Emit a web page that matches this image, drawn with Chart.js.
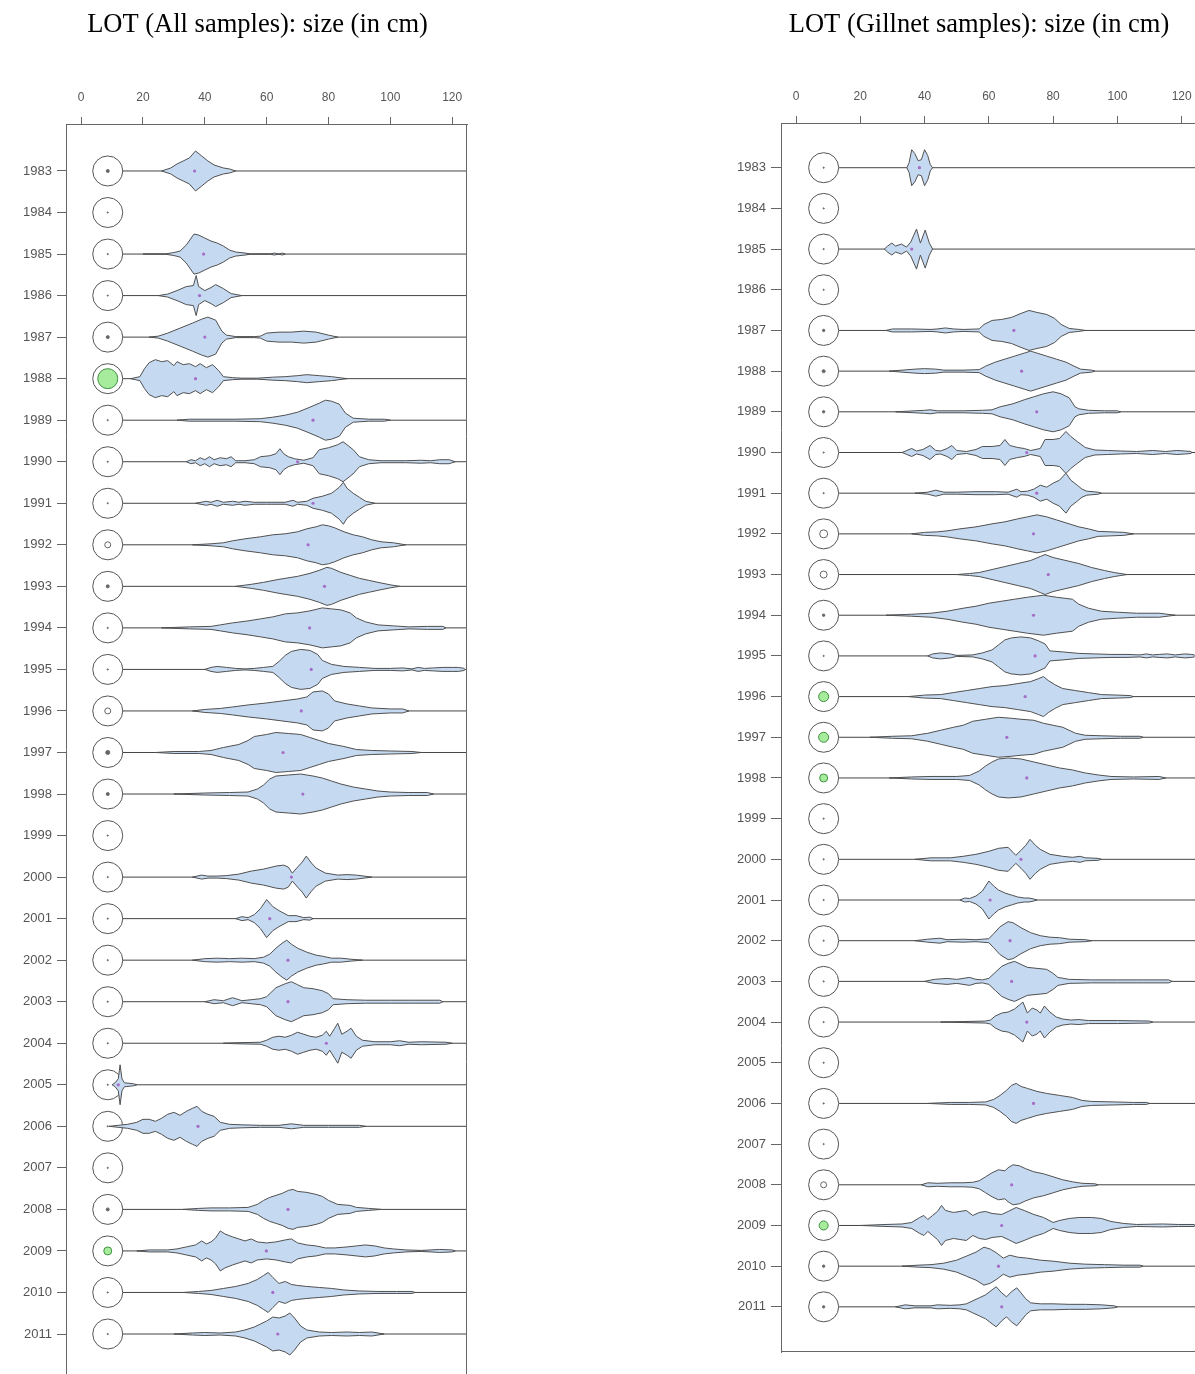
<!DOCTYPE html>
<html>
<head>
<meta charset="utf-8">
<script src="https://cdn.jsdelivr.net/npm/chart.js@4.4.1/dist/chart.umd.min.js"></script>
<style>
  html, body { margin: 0; padding: 0; background: #fff; overflow: hidden; }
  #boxAll { position: absolute; left: 0; top: 0; }
  #boxGill { position: absolute; left: 597px; top: 0; }
</style>
</head>
<body>
<div id="boxAll"><canvas id="chartAll" width="597" height="1374"></canvas></div>
<div id="boxGill"><canvas id="chartGill" width="598" height="1374"></canvas></div>
<script>
const years = [1983, 1984, 1985, 1986, 1987, 1988, 1989, 1990, 1991, 1992, 1993, 1994, 1995, 1996, 1997,
  1998, 1999, 2000, 2001, 2002, 2003, 2004, 2005, 2006, 2007, 2008, 2009, 2010, 2011];
const sizeTicks = [0, 20, 40, 60, 80, 100, 120];

// bean outlines: [size in cm, density half-width], one list per year
const allBeans = [
  [[26,0],[29,3],[31,7],[33,10],[35,13],[37,20],[39,15],[41,10],[43,6],[46,3],[48,2],[50,0]],
  [],
  [[20,0],[27,0],[30,1.5],[32,3],[34,9],[36.5,20],[38,19],[40,16],[42,13],[44,11],[46,8],[48,4],[50,2],[53,1],[55,0],[61,0],[62.5,1],[64,0],[65,1],[66,0]],
  [[25,0],[28,1.5],[31,5],[34,9],[36.3,10],[37.2,20],[38,9],[40,5],[42,8],[43.5,11],[46,7],[48.5,2],[52,0]],
  [[22,0],[25,1],[28,4],[32,9],[36,14],[39,18],[41,20],[43.5,17],[45.5,6],[47,2],[50,0.5],[56,0.5],[58,1],[60,4],[64,5],[68,5],[72,6],[76,5],[80,2],[83,0]],
  [[16,0],[19,2],[20.5,10],[22,16],[24,19],[26,17],[28,18],[30,13],[31,17],[33,14],[35,15],[37,12],[38.5,15],[40.5,11],[42.5,14],[44.5,8],[46,2],[49,1],[52,0.5],[57,0.5],[62,1.5],[66,2],[70,3],[73,4],[77,3],[81,2],[86,0]],
  [[31,0],[35,1],[50,1],[58,1.5],[62,3],[66,5],[70,8],[74,13],[77,17],[79,20],[81,19],[83.5,16],[85.5,7],[88,2],[93,1],[98,1],[100,0]],
  [[34,0],[35.5,2],[37,1],[38.5,4],[40,2],[41.5,5],[43,2],[45,4],[47,3],[48.5,5],[50,1],[53,1],[56,2],[58,5],[61,6],[63,8],[64.3,13],[65.5,8],[67,5],[69,3],[72,1.5],[75,4],[77,12],[80,14],[83,17],[84.7,20],[86,17],[88,12],[90,5],[93,2],[97,1],[105,1],[110,1.5],[113,1],[116,2],[119,2],[121,0]],
  [[37,0],[40.5,2],[42,1],[44,3],[46,1],[49,2],[51,1],[53,2],[56,1],[60,1],[66,1],[68.5,3],[70,1],[73,2],[75,5],[78,7],[81,10],[83.5,16],[84.8,21],[86,15],[88,10],[90,6],[92,2],[95,0]],
  [[36,0],[42,1],[46,2],[49,4],[53,6],[58,8],[62,10],[66,11],[70,13],[73,16],[76,18],[78,20],[80,19],[82,17],[85,13],[88,10],[91,8],[94,5],[97,3],[101,2],[105,0]],
  [[50,0],[55,2],[59,4],[64,7],[70,10],[74,13],[77,16],[79.5,19],[81,18],[84,14],[87,11],[90,8],[93,6],[96,4],[100,1.5],[103,0]],
  [[26,0],[35,1],[42,1.5],[45,3],[49,5],[54,7],[58,9],[62,11],[66,14],[70,15],[74,17],[78,20],[81,19],[84,18],[87,15],[89,10],[92,6],[96,3],[101,2],[106,1],[112,1.5],[117,1.5],[118,0]],
  [[40,0],[42,2],[44,3],[47,2],[50,1],[53,0.5],[56,1],[59,2],[62,3],[64,8],[66,14],[68,18],[71,20],[74,19],[76.5,15],[78,9],[81,5],[85,3],[90,2],[95,1],[100,1],[104,1.5],[107,0.5],[109,2],[111,1],[114,1.5],[117,2],[120,2],[122,2],[124,1]],
  [[36,0],[40,1.5],[45,2.5],[49,4],[54,6],[60,8],[65,10],[70,12],[73,14],[75,19],[78,20],[80,17],[82,10],[86,7],[90,5],[94,3],[100,2],[104,2],[106,0]],
  [[24,0],[30,1],[38,1],[42,2],[46,5],[51,8],[54,12],[56,16],[60,18],[63,20],[67,19],[71,18],[74,15],[77,12],[80,9],[85,6],[89,3],[94,2],[100,1.5],[107,1],[110,0]],
  [[30,0],[40,1],[48,1.5],[54,2],[57,5],[59,9],[61,15],[63,18],[67,19],[71,20],[75,18],[78,16],[81,13],[84,10],[88,7],[92,5],[96,3],[100,2],[106,1.5],[112,1.5],[114,0]],
  [],
  [[36,0],[39,2],[41,1],[44,1],[47,1.5],[51,3],[55,6],[59,8],[63,11],[65.5,12],[67,10],[68.3,4],[70,10],[71.5,15],[72.8,21],[74.5,14],[76,9],[79,4],[83,2],[86,2.5],[89,2],[94,0]],
  [[50,0],[52,2],[54,1],[56,4],[58,10],[60,19],[62,12],[64,8],[67,3],[69.5,3],[72,1],[74,1.5],[75,0]],
  [[36,0],[40,1.5],[44,2],[48,1.5],[52,2],[56,1.5],[59,3],[61,6],[63,12],[65,17],[66.5,20],[68,16],[70,12],[73,8],[76,5],[78,4],[81,2],[84,2],[87,1],[91,0]],
  [[40,0],[43,2],[46,1],[49,4],[52,1],[55,2],[58,3],[60,5],[63,14],[66,18],[68,20],[70,17],[72,14],[75,13],[78,11],[80,8],[81.5,3],[86,2],[92,1.5],[100,1.5],[108,1.5],[116,1.5],[117,0]],
  [[46,0],[50,0.5],[58,1],[60,3],[62,6],[64,7],[66,6],[68,8],[70,11],[72,9],[74,7],[76,6],[78,8],[79.3,12],[80.4,7],[82,15],[83,20],[84.3,9],[86,12],[87.3,15],[89,7],[91,3],[95,1.5],[100,1.5],[103,2.5],[106,1],[110,1.5],[118,1],[120,0]],
  [[10,0],[11,2],[12,6],[12.6,20],[13.2,6],[14,2],[17,1],[18,0]],
  [[9,0],[12,1],[15,2],[18,4],[20,7],[22,7],[24,5],[26,8],[28,12],[30,14],[32,11],[34,15],[36,18],[37.5,20],[39,15],[41,12],[43,10],[45,4],[48,2],[52,1.5],[58,1],[64,1],[68,2.5],[72,1],[80,1],[90,1],[92,0]],
  [],
  [[33,0],[38,1],[42,1.5],[48,1.5],[54,2],[57,5],[59,9],[61,12],[63,14],[65,16],[67,19],[68.5,20],[70,18],[73,17],[76,15],[78,13],[80,9],[83,5],[87,4],[89,2],[93,1],[97,0]],
  [[18,0],[22,1],[28,1],[31,2],[34,4],[37,6],[39,10],[40.5,7],[42,9],[43.5,13],[45,20],[46.5,17],[49,14],[51,12],[53,10],[55,12],[57,9],[60,8],[63,9],[66,11],[68,12],[70,8],[73,6],[76,5],[79,3],[82,3],[86,4],[89,5],[92,6],[95,5],[98,3],[101,2],[105,1],[110,0.5],[116,1.5],[120,1],[121,0]],
  [[33,0],[38,1],[42,2],[46,4],[50,6],[54,9],[57,13],[59,17],[60.5,20],[62,15],[64,9],[66,11],[68,8],[70,7],[73,6],[77,5],[81,4],[85,2.5],[90,1.5],[96,1],[102,1],[107,1],[108,0]],
  [[30,0],[36,1],[40,1.5],[45,1],[50,2],[53,4],[56,7],[58,10],[60,13],[62,17],[64,16],[66,18],[67.5,21],[69,16],[71,8],[73,4],[77,2],[81,1.5],[86,2],[90,1.5],[94,2],[98,0]]
];
const allMeans = [36.7, null, 39.6, 38.3, 40, 37, 75, 70, 75, 73.4, 78.7, 73.9, 74.4, 71.2, 65.3,
  71.7, null, 68, 61, 66.9, 66.9, 79.3, 12, 37.8, null, 66.9, 59.9, 62, 63.6];
const allDots = [1.5, 0.6, 0.6, 0.6, 1.5, 10, 0.6, 0.6, 0.6, 3, 1.5, 0.6, 0.6, 3, 2,
  1.5, 0.6, 0.6, 0.6, 0.6, 0.6, 0.6, 0.6, 0.6, 0.6, 1.5, 4, 0.6, 0.6];
const allGreenYears = [1988, 2009];

const gillBeans = [
  [[34.5,0],[35.2,5],[36,18],[37,14],[38,7],[39,8],[40,18],[41,12],[41.8,3],[42.5,0]],
  [],
  [[27.5,0],[28.5,3],[29.8,6],[31,3],[32.8,5],[34.4,2],[35.7,7],[37.5,20],[38.7,6],[40.2,19],[41.5,6],[42.5,0]],
  [],
  [[28,0],[30,1.5],[36,1.5],[42,1],[44,1.5],[46.5,2.5],[49,1.5],[52,1],[57,1.5],[58.5,6],[61,10],[64,11],[67,13],[70,17],[72.5,20],[75,18],[78,16],[80.5,12],[82.5,6],[85,2],[88,1],[90,0]],
  [[29,0],[33,1],[37,2],[40,2.5],[43.5,2],[46,1],[52,1],[57,1.5],[59,5],[62,9],[65,12],[68,15],[71,18],[73,20],[75,18],[78,15],[81,12],[84,9],[86.5,5],[88.5,2],[92,1],[93,0]],
  [[31,0],[37,1],[40,1.5],[41.7,2],[44,1],[52,1],[58,1.5],[61,2],[63.5,5],[67.5,8],[71,12],[74,15],[77,18],[80,20],[82.5,18],[85,14],[86.8,5],[88,3],[91,1.5],[96,1],[100,1],[101,0]],
  [[33,0],[34.5,2],[36,4],[37.5,1.5],[39.5,3],[41.7,7],[43.5,2],[45,1.5],[47,4],[48.5,7],[50,2],[53,1],[56,3],[58,6],[61,6],[63.5,7],[65,13],[66.5,7],[69,5],[71,4],[73,2],[76,4],[77.5,13],[80,13],[82,14],[84,21],[85.5,16],[87.5,11],[90,5],[93,2.5],[97,2],[101,1.5],[106,1],[111,2],[115,1],[118.5,2],[121,1.5],[123,1]],
  [[37,0],[41,1],[43.5,3],[46,1],[50,1],[56,1.5],[62,1.5],[66,1],[68.7,4],[70,1.5],[72,2],[74,4],[76,8],[78,6],[80,10],[82,13],[84,20],[85.5,13],[87.5,8],[89,4],[90.5,2],[94,1],[95,0]],
  [[36,0],[40,1.5],[44,2],[47,3],[51,5],[56,7],[61,10],[65,12],[69,15],[72,17],[75,19],[78,17],[81,14],[84,11],[88,7],[91,5],[94,2.5],[98,2],[102,1.5],[105,0]],
  [[50,0],[54,1],[57,2],[61,5],[65,8],[69,11],[73,14],[76,18],[77.5,20],[80,17],[84,14],[88,11],[92,7],[96,4],[99,2],[103,0]],
  [[28,0],[36,1],[42,2],[47,4],[52,7],[56,9],[60,12],[64,14],[68,16],[72,18],[77,20],[81,18],[86,16],[88,11],[91,7],[95,4],[100,3],[106,2],[113,2],[118,0]],
  [[41,0],[42.5,2],[45,3],[48,2],[50,0.5],[55,1],[58,3],[61,6],[63,11],[65,16],[67,18],[70,19],[73,18],[75.5,15],[77.5,12],[79,5],[83,4],[88,2.5],[93,2],[98,1.5],[103,1.5],[107,1],[109,2],[111,1],[113,1.5],[115.5,2],[118,1],[121,2],[123,1.5],[124,1]],
  [[35,0],[40,1.5],[45,2],[49,4],[53,6],[57,8],[61,10],[65,11],[69,13],[73,15],[75.5,18],[77,20],[78.5,16],[80.5,12],[83,8],[87,6],[91,4],[95,2],[100,1.5],[104,1],[105,0]],
  [[23,0],[30,1],[36,1.5],[41,4],[45,7],[49,10],[52,12],[55,16],[59,18],[63,20],[67,19],[70,18],[74,17],[77,14],[80,12],[83,10],[87,4],[90,2],[95,1.5],[101,1],[107,1],[108,0]],
  [[29,0],[36,1],[42,1.5],[50,1.5],[54,2.5],[57,7],[59,12],[61,16],[63,19],[66,20],[70,19],[74,16],[78,13],[82,10],[86,8],[90,5],[94,3],[98,1.5],[105,1],[113,1.5],[115,0]],
  [],
  [[37,0],[42,1.5],[48,1.5],[52,3],[56,5],[60,8],[63,11],[66,12],[67.5,7],[68.4,4],[70,9],[71.5,14],[72.8,20],[74.5,14],[76,10],[79,5],[83,3],[86,2],[88.4,3],[90,1.5],[94,1],[95,0]],
  [[51,0],[52.5,2],[54,1.5],[56,4],[58,9],[60,19],[61.5,14],[63,10],[65,7],[67,5],[69,3],[71,2],[72.5,2],[74,1],[75,0]],
  [[37,0],[41,1.5],[44.8,2.5],[47,1],[52,1.5],[56,1],[60,2],[61.5,7],[63.5,14],[66,19],[67.5,18],[70,13],[73,8],[76,5],[79,3.5],[82,3],[85,1.5],[90,1],[92,0]],
  [[40,0],[43,2],[47,3],[50,2],[54,4],[56,2],[58,1.5],[60,3],[62,9],[64,15],[66,18],[68,20],[70,17],[72,14],[75,13],[78,12],[80,8],[81.5,4],[85,2],[92,1.5],[100,1.5],[108,1.5],[116,1.5],[117,0]],
  [[45,0],[52,0.5],[59,1],[60.5,2],[62,6],[64,9],[66,10],[68,13],[69.5,17],[70.6,20],[72,9],[73.5,14],[75,12],[76,9],[77.3,16],[79,10],[81,5],[83,3],[85.5,2],[88,2.5],[91,1.5],[100,1.5],[110,1],[111,0]],
  [],
  [[41,0],[48,1],[54,1],[59,1.5],[61.5,4],[63.5,8],[65.5,13],[67,18],[68.5,20],[70,17],[72,15],[75,12],[78,10],[82,8],[86,6],[89,3],[92,2],[99,1.5],[105,1],[109,1],[110,0]],
  [],
  [[39,0],[41,2],[44,1.5],[48,2],[52,2],[55,2.5],[57,4],[59,8],[61,12],[63,15],[65,14],[66,17],[67.5,20],[69.5,19],[71.5,16],[74,13],[77,11],[80,8],[83,5],[86,3],[89,1.5],[93,1],[94,0]],
  [[20,0],[28,1],[33,1.5],[36,3],[38.5,8],[39.8,10],[41,6],[42.5,10],[44,14],[45.3,20],[46.5,15],[49,13],[51,14],[53,15],[55,10],[57,13],[59,14],[61,12],[64,11],[66,14],[68.5,18],[71,15],[74,11],[77,8],[80,3],[82,5],[85,7],[88,8],[92,8],[95,7],[98,4],[102,2],[106,1],[114,1.5],[119,1],[124,1]],
  [[33,0],[38,1],[42,1.5],[46,3],[50,6],[53,10],[56,14],[58.5,19],[60.5,17],[62.5,13],[64.5,8],[66.5,11],[69,9],[72,8],[76,6],[80,5],[85,3],[90,2],[96,1.5],[102,1],[107,1],[108,0]],
  [[31,0],[34,2],[37,1],[42,1],[44,2],[48,1.5],[51,2],[53,3],[55,6],[57,9],[59,12],[61,17],[62.3,20],[64,14],[65.5,10],[67,15],[68.7,19],[70,14],[71.5,8],[73,4],[76,3],[80,3],[85,2.5],[90,2.5],[95,2],[99,1],[100,0]]
];
const gillMeans = [38.4, null, 36, null, 67.8, 70.2, 74.9, 71.8, 74.9, 73.9, 78.5, 73.9, 74.4, 71.3, 65.6,
  71.8, null, 70, 60.4, 66.6, 67.1, 71.8, null, 73.9, null, 67.1, 64, 63, 64];
const gillDots = [0.6, 0.6, 0.6, 0.6, 1.2, 1.5, 1.2, 0.6, 0.6, 4, 3.5, 1.2, 0.6, 5, 5,
  4, 0.6, 0.6, 0.6, 0.6, 0.6, 0.6, 0.6, 0.6, 0.6, 3, 4.5, 1.2, 1.2];
const gillGreenYears = [1996, 1997, 1998, 2009];

const circleSize = 8.6;   // cm position of the reference circles
const lineStart = 13.4;   // centre lines start at the circle's right edge

// frame sides not covered by the axes
const framePlugin = {
  id: 'frame',
  afterDraw(chart, args, opts) {
    const a = chart.chartArea;
    const ctx = chart.ctx;
    ctx.save();
    ctx.strokeStyle = '#666';
    ctx.lineWidth = 1;
    ctx.beginPath();
    if (opts.right) { ctx.moveTo(a.right - 0.5, a.top); ctx.lineTo(a.right - 0.5, a.bottom); }
    if (opts.bottom) { ctx.moveTo(a.left, a.bottom - 0.5); ctx.lineTo(a.right, a.bottom - 0.5); }
    ctx.stroke();
    ctx.restore();
  }
};

// panel title, centred where the original puts it
const panelTitle = {
  id: 'panelTitle',
  afterDraw(chart, args, opts) {
    const ctx = chart.ctx;
    ctx.save();
    ctx.font = "26.5px 'Liberation Serif', 'Times New Roman', serif";
    ctx.fillStyle = '#000';
    ctx.textAlign = 'center';
    ctx.textBaseline = 'alphabetic';
    ctx.fillText(opts.text, opts.x, opts.y);
    ctx.restore();
  }
};

// axes must not push the plot area in
function noPadding(s) {
  s.paddingTop = 0; s.paddingBottom = 0; s.paddingLeft = 0; s.paddingRight = 0;
}

const xTickFont = { family: "'Liberation Sans', Arial, sans-serif", size: 12 };
const yTickFont = { family: "'Liberation Sans', Arial, sans-serif", size: 13 };

function makeBeanChart(id, p) {
  const datasets = [];
  p.beans.forEach((bean, i) => {
    if (!bean.length) return;
    datasets.push({
      data: bean.map(b => ({ x: b[0], y: i - b[1] * p.dens })),
      borderColor: '#505050', borderWidth: 1, pointRadius: 0, fill: false, order: 2
    });
    datasets.push({
      data: bean.map(b => ({ x: b[0], y: i + b[1] * p.dens })),
      borderColor: '#505050', borderWidth: 1, pointRadius: 0,
      fill: '-1', backgroundColor: '#c5d9f1', order: 2
    });
    datasets.push({
      data: [{ x: lineStart, y: i }, { x: 130, y: i }],
      borderColor: '#444', borderWidth: 1, pointRadius: 0, fill: false, order: 5
    });
  });
  // reference circles
  datasets.push({
    data: years.map((y, i) => ({ x: circleSize, y: i })),
    showLine: false, pointRadius: 15, pointBorderWidth: 1,
    pointBorderColor: '#555', pointBackgroundColor: 'rgba(0,0,0,0)', order: 4
  });
  // inner markers
  datasets.push({
    data: years.map((y, i) => ({ x: circleSize, y: i })),
    showLine: false,
    pointRadius: p.dots,
    pointBorderWidth: 1,
    pointBorderColor: years.map(y => p.green.includes(y) ? '#3f8f3f' : '#666'),
    pointBackgroundColor: years.map((y, i) => p.green.includes(y) ? '#a6ec9c' : (p.dots[i] >= 3 ? '#fff' : '#666')),
    order: 3
  });
  // means
  datasets.push({
    data: p.means.map((m, i) => m === null ? null : { x: m, y: i }).filter(d => d),
    showLine: false, pointRadius: 1.6, pointBorderWidth: 0,
    pointBackgroundColor: '#a56cc8', order: 1
  });

  return new Chart(document.getElementById(id), {
    type: 'line',
    data: { datasets },
    options: {
      responsive: false,
      animation: false,
      events: [],
      layout: { autoPadding: false, padding: { left: 0, right: p.padRight, top: 0, bottom: p.padBottom } },
      plugins: {
        legend: { display: false },
        tooltip: { enabled: false },
        frame: { right: p.frameRight, bottom: p.frameBottom },
        panelTitle: { text: p.title, x: p.titleX, y: 31.5 }
      },
      scales: {
        x: {
          type: 'linear',
          position: 'top',
          min: p.xMin,
          max: p.xMax,
          afterBuildTicks: s => { s.ticks = sizeTicks.map(v => ({ value: v })); },
          afterFit: s => { s.height = p.xAxisHeight; noPadding(s); },
          grid: { drawOnChartArea: false, tickLength: 7, color: '#666' },
          border: { color: '#666' },
          ticks: { color: '#555', font: xTickFont, padding: 12, maxRotation: 0, autoSkip: false }
        },
        y: {
          type: 'linear',
          reverse: true,
          min: p.yMin,
          max: p.yMax,
          afterBuildTicks: s => { s.ticks = years.map((y, i) => ({ value: i })); },
          afterFit: s => { s.width = p.yAxisWidth; noPadding(s); },
          grid: { drawOnChartArea: false, tickLength: p.yTickLength, color: '#666' },
          border: { color: '#666' },
          ticks: { color: '#555', font: yTickFont, padding: 5, autoSkip: false, callback: v => years[v] }
        }
      }
    },
    plugins: [framePlugin, panelTitle]
  });
}

makeBeanChart('chartAll', {
  title: 'LOT (All samples): size (in cm)', titleX: 257.5,
  beans: allBeans, means: allMeans, dots: allDots, green: allGreenYears,
  dens: 1 / 41.54,
  padRight: 130, padBottom: 0,
  yAxisWidth: 66, yTickLength: 9,
  xMin: -4.9, xMax: 124.8,
  yMin: -1.131, yMax: 28.963,
  xAxisHeight: 124,
  frameRight: true, frameBottom: false
});

makeBeanChart('chartGill', {
  title: 'LOT (Gillnet samples): size (in cm)', titleX: 382,
  beans: gillBeans, means: gillMeans, dots: gillDots, green: gillGreenYears,
  dens: 1 / 40.68,
  padRight: 0, padBottom: 22,
  yAxisWidth: 184, yTickLength: 10,
  xMin: -4.67, xMax: 124.15,
  yMin: -1.099, yMax: 29.11,
  xAxisHeight: 123,
  frameRight: false, frameBottom: true
});
</script>
</body>
</html>
